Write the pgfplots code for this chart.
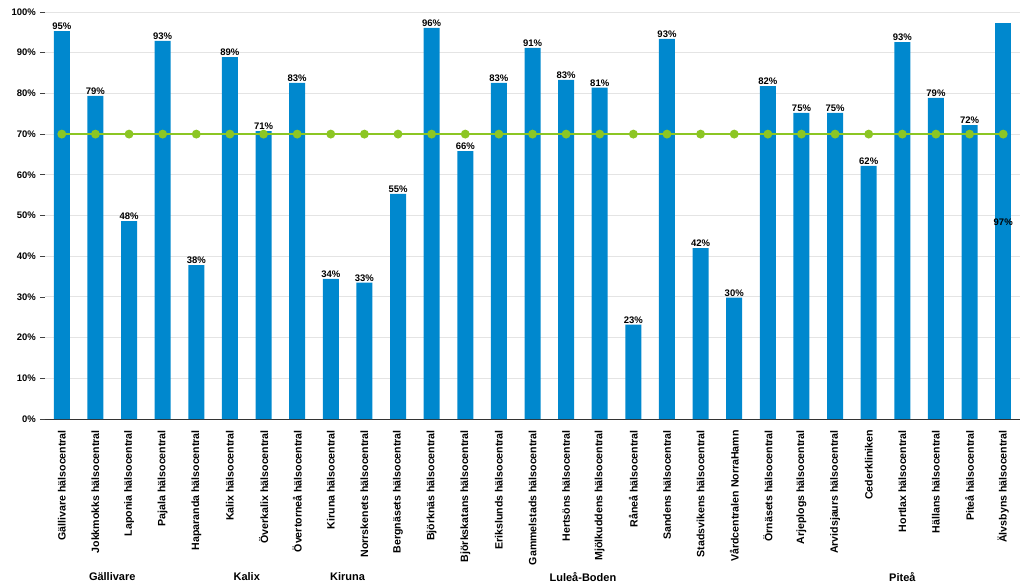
\documentclass[border=0pt]{standalone}
\usepackage{pgfplots}
\pgfplotsset{compat=1.18}
\usepackage{fontspec}
\setmainfont{Liberation Sans}
\definecolor{barblue}{RGB}{0,136,206}
\definecolor{lime}{RGB}{140,198,36}
\definecolor{gridgray}{RGB}{228,228,228}
\begin{document}
\begin{tikzpicture}
\useasboundingbox (-45pt,-169pt) rectangle (979pt,419pt);
\begin{axis}[
  scale only axis, width=975pt, height=407pt,
  at={(0,0)}, anchor=south west, clip=false,
  xmin=-0.5, xmax=28.5, ymin=0, ymax=100,
  axis x line*=bottom, axis y line*=left,
  x axis line style={draw=black!80, line width=0.8pt},
  y axis line style={draw=none},
  xtick={0,...,28},
  xticklabels={Gällivare hälsocentral, Jokkmokks hälsocentral, Laponia hälsocentral, Pajala hälsocentral, Haparanda hälsocentral, Kalix hälsocentral, Överkalix hälsocentral, Övertorneå hälsocentral, Kiruna hälsocentral, Norrskenets hälsocentral, Bergnäsets hälsocentral, Björknäs hälsocentral, Björkskatans hälsocentral, Erikslunds hälsocentral, Gammelstads hälsocentral, Hertsöns hälsocentral, Mjölkuddens hälsocentral, Råneå hälsocentral, Sandens hälsocentral, Stadsvikens hälsocentral, Vårdcentralen NorraHamn, Örnäsets hälsocentral, Arjeplogs hälsocentral, Arvidsjaurs hälsocentral, Cederkliniken, Hortlax hälsocentral, Hällans hälsocentral, Piteå hälsocentral, Älvsbyns hälsocentral},
  xticklabel style={rotate=90, anchor=east, font=\bfseries\fontsize{10.6}{12}\selectfont, inner sep=0pt, xshift=-6pt},
  xtick style={draw=none},
  ytick={0,10,...,100},
  yticklabels={0\%,10\%,20\%,30\%,40\%,50\%,60\%,70\%,80\%,90\%,100\%},
  yticklabel style={font=\bfseries\fontsize{9.5}{11}\selectfont, inner sep=0pt, xshift=-4pt},
  ytick style={draw=black!75, line width=0.6pt},
  tick align=outside, major tick length=5pt,
  ymajorgrids, grid style={draw=gridgray, line width=0.8pt},
  every node near coord/.append style={font=\bfseries\fontsize{9.5}{11}\selectfont, inner sep=1pt, black},
]
\addplot[ybar, bar width=16pt, bar shift=0pt, fill=barblue, draw=none,
  nodes near coords={\pgfplotspointmeta\%},
  point meta=explicit symbolic]
  table[meta=lab] {
x y lab
0 95.3 95
1 79.4 79
2 48.6 48
3 92.9 93
4 37.8 38
5 88.9 89
6 70.7 71
7 82.6 83
8 34.4 34
9 33.5 33
10 55.3 55
11 96.1 96
12 65.8 66
13 82.6 83
14 91.2 91
15 83.3 83
16 81.4 81
17 23.2 23
18 93.4 93
19 42.0 42
20 29.8 30
21 81.8 82
22 75.2 75
23 75.2 75
24 62.2 62
25 92.6 93
26 78.9 79
27 72.2 72
};
\addplot[ybar, bar width=16pt, bar shift=0pt, fill=barblue, draw=none]
  table {
x y
28 97.3
};
\node[font=\bfseries\fontsize{9.5}{11}\selectfont] at (axis cs:28,48.4) {97\%};
\addplot[lime, line width=1.6pt, mark=*, mark size=3.6pt, mark options={fill=lime, draw=lime}]
  table {
x y
0 70
1 70
2 70
3 70
4 70
5 70
6 70
7 70
8 70
9 70
10 70
11 70
12 70
13 70
14 70
15 70
16 70
17 70
18 70
19 70
20 70
21 70
22 70
23 70
24 70
25 70
26 70
27 70
28 70
};
\node[font=\bfseries\fontsize{11}{13}\selectfont] at ([yshift=-158pt]axis cs:1.5,0) {Gällivare};
\node[font=\bfseries\fontsize{11}{13}\selectfont] at ([yshift=-158pt]axis cs:5.5,0) {Kalix};
\node[font=\bfseries\fontsize{11}{13}\selectfont] at ([yshift=-158pt]axis cs:8.5,0) {Kiruna};
\node[font=\bfseries\fontsize{11}{13}\selectfont] at ([yshift=-158pt]axis cs:15.5,0) {Luleå-Boden};
\node[font=\bfseries\fontsize{11}{13}\selectfont] at ([yshift=-158pt]axis cs:25,0) {Piteå};
\end{axis}
\end{tikzpicture}
\end{document}
